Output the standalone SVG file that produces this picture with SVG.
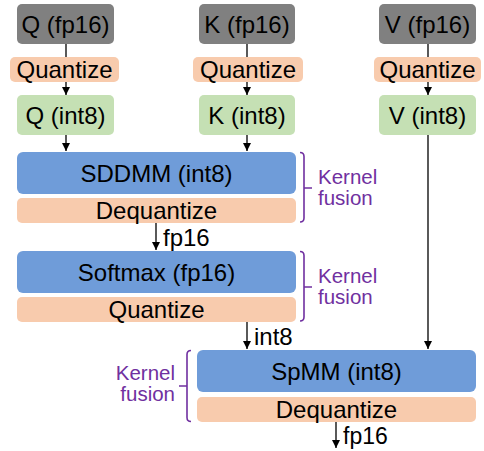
<svg xmlns="http://www.w3.org/2000/svg" width="484" height="451" viewBox="0 0 484 451">
<defs>
<marker id="ah" markerUnits="userSpaceOnUse" markerWidth="8" markerHeight="9" refX="8" refY="4" orient="auto">
<path d="M0,0 L8,4 L0,8 Z" fill="#000"/>
</marker>
<style>
.t{font-family:"Liberation Sans",Arial,sans-serif;font-size:24px;fill:#000;text-anchor:middle}
.l{font-family:"Liberation Sans",Arial,sans-serif;font-size:24px;fill:#000}
.k{font-family:"Liberation Sans",Arial,sans-serif;font-size:20.5px;fill:#7030A0}
.gray{fill:#808080}
.or{fill:#F8CBAD}
.gr{fill:#C5E0B4}
.bl{fill:#6F9CD9}
.c{stroke:#000;stroke-width:1.3;fill:none}
.a{marker-end:url(#ah)}
.br{stroke:#7030A0;stroke-width:1.6;fill:none}
</style>
</defs>
<g id="connectors">
<line class="c" x1="66" y1="44" x2="66" y2="57"/>
<line class="c a" x1="66" y1="82" x2="66" y2="95"/>
<line class="c a" x1="66" y1="135" x2="66" y2="151"/>
<line class="c" x1="247" y1="44" x2="247" y2="57"/>
<line class="c a" x1="247" y1="82" x2="247" y2="95"/>
<line class="c a" x1="247" y1="135" x2="247" y2="151"/>
<line class="c" x1="428" y1="44" x2="428" y2="57"/>
<line class="c a" x1="428" y1="82" x2="428" y2="95"/>
<line class="c a" x1="428" y1="135" x2="428" y2="349"/>
<line class="c a" x1="156" y1="223" x2="156" y2="250"/>
<line class="c a" x1="247" y1="322" x2="247" y2="349"/>
<line class="c a" x1="336" y1="422" x2="336" y2="448"/>
<text class="l" x="163" y="246">fp16</text>
<text class="l" x="254" y="345">int8</text>
<text class="l" x="343" y="444" style="font-size:23px">fp16</text>
</g>
<g id="q-fp16"><rect class="gray" x="17" y="4" width="97" height="40" rx="5"/><text class="t" x="65.5" y="33">Q (fp16)</text></g>
<g id="k-fp16"><rect class="gray" x="199" y="4" width="96" height="40" rx="5"/><text class="t" x="247" y="33">K (fp16)</text></g>
<g id="v-fp16"><rect class="gray" x="379" y="4" width="97" height="40" rx="5"/><text class="t" x="427.5" y="33">V (fp16)</text></g>
<g id="q-quant"><rect class="or" x="10" y="57" width="109" height="25" rx="5"/><text class="t" x="64.5" y="78">Quantize</text></g>
<g id="k-quant"><rect class="or" x="193" y="57" width="110" height="25" rx="5"/><text class="t" x="248" y="78">Quantize</text></g>
<g id="v-quant"><rect class="or" x="374" y="57" width="107" height="25" rx="5"/><text class="t" x="427.5" y="78">Quantize</text></g>
<g id="q-int8"><rect class="gr" x="17" y="95" width="97" height="40" rx="5"/><text class="t" x="65.5" y="124">Q (int8)</text></g>
<g id="k-int8"><rect class="gr" x="199" y="95" width="96" height="40" rx="5"/><text class="t" x="247" y="124">K (int8)</text></g>
<g id="v-int8"><rect class="gr" x="379" y="95" width="97" height="40" rx="5"/><text class="t" x="427.5" y="124">V (int8)</text></g>
<g id="sddmm"><rect class="bl" x="17" y="152" width="279" height="42" rx="6"/><text class="t" x="156.5" y="182">SDDMM (int8)</text></g>
<g id="dequant1"><rect class="or" x="17" y="198" width="279" height="25" rx="5"/><text class="t" x="156.5" y="219">Dequantize</text></g>
<g id="softmax"><rect class="bl" x="17" y="251" width="279" height="42" rx="6"/><text class="t" x="156.5" y="281">Softmax (fp16)</text></g>
<g id="quant2"><rect class="or" x="17" y="297" width="279" height="25" rx="5"/><text class="t" x="156.5" y="318">Quantize</text></g>
<g id="spmm"><rect class="bl" x="197" y="350" width="279" height="42" rx="6"/><text class="t" x="336.5" y="380">SpMM (int8)</text></g>
<g id="dequant2"><rect class="or" x="197" y="397" width="279" height="25" rx="5"/><text class="t" x="336.5" y="417.5">Dequantize</text></g>
<g id="fusion1">
<path class="br" d="M300,152.5 Q304,152.5 304,156.5 V218 Q304,222 300,222 M304,188 H312"/>
<text class="k" x="318" y="184">Kernel</text><text class="k" x="318" y="205">fusion</text>
</g>
<g id="fusion2">
<path class="br" d="M300,251.5 Q304,251.5 304,255.5 V317 Q304,321 300,321 M304,287 H312"/>
<text class="k" x="318" y="283">Kernel</text><text class="k" x="318" y="304">fusion</text>
</g>
<g id="fusion3">
<path class="br" d="M191,350.5 Q187,350.5 187,354.5 V417.5 Q187,421.5 191,421.5 M187,386 H179"/>
<text class="k" x="175" y="380" text-anchor="end">Kernel</text><text class="k" x="175" y="401" text-anchor="end">fusion</text>
</g>
</svg>
